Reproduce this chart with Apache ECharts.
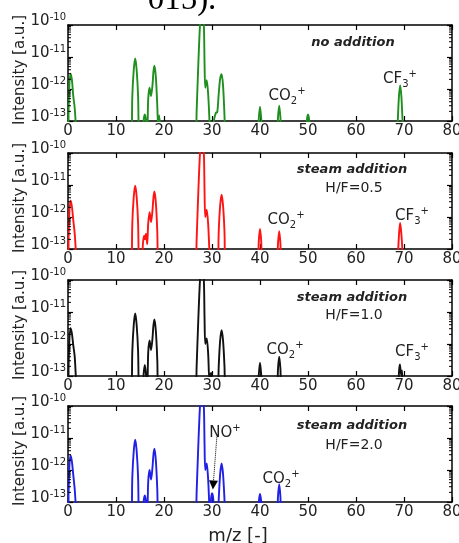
<!DOCTYPE html>
<html>
<head>
<meta charset="utf-8">
<script src="https://cdn.jsdelivr.net/npm/echarts@6/dist/echarts.min.js"></script>
<style>html,body{margin:0;padding:0;background:#fff;}#c{width:459px;height:543px;}</style>
</head>
<body>
<div id="c"></div>
<script>
// ---- data (m/z, intensity [a.u.]) ----
const spectrumNoAddition = [
 [0,1e-14],[0.2,6e-13],[0.5,3e-12],[0.8,2e-12],[1.1,6e-13],[1.4,2.5e-13],[1.7,5e-14],[2,1e-14],
 [13.1,1e-14],[13.4,6e-13],[13.7,4e-12],[14,9e-12],[14.3,4e-12],[14.6,6e-13],[14.9,1e-14],
 [15.5,2e-14],[15.75,1e-13],[16,1.6e-13],[16.25,1e-13],[16.5,2e-14],
 [16.7,4.5e-13],[17,1.1e-12],[17.3,6e-13],[17.6,1.3e-12],[17.8,3.5e-12],[18,5.3e-12],[18.3,2.4e-12],[18.6,3e-13],[18.8,6e-14],[19,1.5e-13],[19.25,4e-14],[19.5,1e-14],
 [26.5,1e-14],[26.8,2e-13],[27.15,6e-12],[27.5,1e-10],[27.9,6e-10],[28.3,1e-10],[28.45,6e-12],[28.6,1.1e-12],[28.9,1.9e-12],[29.2,7e-13],[29.5,8e-14],[29.7,1e-14],
 [30.1,1e-14],[30.4,1e-13],[30.8,1.8e-13],[31.1,1.9e-13],[31.4,7e-13],[31.7,2.1e-12],[32,2.9e-12],[32.3,1.3e-12],[32.6,1.5e-13],[32.9,1e-14],
 [39.45,2e-14],[39.75,1.2e-13],[40,2.8e-13],[40.25,1.2e-13],[40.55,2e-14],
 [43.45,2e-14],[43.75,1.3e-13],[44,3e-13],[44.25,1.3e-13],[44.55,2e-14],
 [49.5,2e-14],[49.75,1e-13],[50,1.6e-13],[50.25,1e-13],[50.5,2e-14],
 [68.4,1e-14],[68.7,1e-13],[68.95,6e-13],[69.2,1.3e-12],[69.45,6e-13],[69.7,1e-13],[70,1e-14],
 [80,1e-14]
];
const spectrumHF05 = [
 [0,1e-14],[0.2,6e-13],[0.5,3.3e-12],[0.8,2.2e-12],[1.1,8e-13],[1.4,3e-13],[1.7,6e-14],[2,1e-14],
 [13.1,1e-14],[13.4,6.5e-13],[13.7,4.3e-12],[14,9.5e-12],[14.3,4.3e-12],[14.6,6.5e-13],[14.9,1e-14],
 [15.3,1e-14],[15.6,1.4e-13],[15.9,2.6e-13],[16.05,2e-13],[16.25,3e-13],[16.5,1.4e-13],[16.7,6e-13],[17,1.4e-12],[17.3,7e-13],[17.6,1.6e-12],[17.8,4e-12],[18,6.3e-12],[18.3,2.8e-12],[18.6,3.5e-13],[18.9,1e-14],
 [26.5,1e-14],[26.8,2e-13],[27.15,6e-12],[27.5,1e-10],[27.9,6e-10],[28.3,1e-10],[28.45,6e-12],[28.6,1e-12],[28.9,1.7e-12],[29.2,6e-13],[29.5,6e-14],[29.7,1e-14],
 [31.1,1e-14],[31.4,3.5e-13],[31.7,2.3e-12],[32,5e-12],[32.3,2.3e-12],[32.6,3.5e-13],[32.9,1e-14],
 [39.45,2e-14],[39.75,1.8e-13],[40,4.2e-13],[40.25,1.8e-13],[40.55,2e-14],
 [43.45,2e-14],[43.75,1.5e-13],[44,3.6e-13],[44.25,1.5e-13],[44.55,2e-14],
 [68.5,1e-14],[68.8,1e-13],[69,3.5e-13],[69.2,6.5e-13],[69.45,3e-13],[69.7,7e-14],[69.9,1e-14],
 [80,1e-14]
];
const spectrumHF10 = [
 [0,1e-14],[0.2,6e-13],[0.5,3.1e-12],[0.8,2.2e-12],[1.1,9e-13],[1.4,4e-13],[1.7,6e-14],[2,1e-14],
 [13.1,1e-14],[13.4,6e-13],[13.7,4e-12],[14,9e-12],[14.3,4e-12],[14.6,6e-13],[14.9,1e-14],
 [15.5,2e-14],[15.75,1.1e-13],[16,2.2e-13],[16.25,1.1e-13],[16.5,2e-14],
 [16.7,5e-13],[17,1.3e-12],[17.3,6.5e-13],[17.6,1.5e-12],[17.8,3.8e-12],[18,5.9e-12],[18.3,2.6e-12],[18.6,3.2e-13],[18.9,1e-14],
 [26.5,1e-14],[26.8,2e-13],[27.15,6e-12],[27.5,1e-10],[27.9,6e-10],[28.3,1e-10],[28.45,6e-12],[28.6,1e-12],[28.9,1.5e-12],[29.2,5e-13],[29.45,8e-14],[29.65,1.1e-13],[29.85,1.25e-13],[30.05,5e-14],[30.25,1e-14],
 [31.1,1e-14],[31.4,2e-13],[31.7,1.3e-12],[32,2.7e-12],[32.3,1.3e-12],[32.6,2e-13],[32.9,1e-14],
 [39.45,2e-14],[39.75,1.1e-13],[40,2.6e-13],[40.25,1.1e-13],[40.55,2e-14],
 [43.45,2e-14],[43.75,1.7e-13],[44,4e-13],[44.25,1.7e-13],[44.55,2e-14],
 [68.7,1e-14],[68.95,1.3e-13],[69.15,2.3e-13],[69.4,1.1e-13],[69.6,1.5e-13],[69.85,1e-14],
 [80,1e-14]
];
const spectrumHF20 = [
 [0,1e-14],[0.2,6e-13],[0.5,2.9e-12],[0.8,1.9e-12],[1.1,7e-13],[1.4,2.5e-13],[1.7,5e-14],[2,1e-14],
 [13.1,1e-14],[13.4,6e-13],[13.7,4e-12],[14,8.9e-12],[14.3,4e-12],[14.6,6e-13],[14.9,1e-14],
 [15.5,2e-14],[15.75,1e-13],[16,1.6e-13],[16.25,1e-13],[16.5,2e-14],
 [16.7,4e-13],[17,1e-12],[17.3,5e-13],[17.6,1.2e-12],[17.8,3e-12],[18,4.6e-12],[18.3,2e-12],[18.6,2.5e-13],[18.9,1e-14],
 [26.5,1e-14],[26.8,2e-13],[27.15,6e-12],[27.5,1e-10],[27.9,6e-10],[28.3,1e-10],[28.45,6e-12],[28.6,1e-12],[28.9,1.6e-12],[29.2,5e-13],[29.45,8e-14],[29.6,5e-14],[29.8,1.3e-13],[30,1.9e-13],[30.25,1.3e-13],[30.5,2e-14],
 [31.1,1e-14],[31.4,1.2e-13],[31.7,7.5e-13],[32,1.6e-12],[32.3,7.5e-13],[32.6,1.2e-13],[32.9,1e-14],
 [39.5,2e-14],[39.75,1e-13],[40,1.8e-13],[40.25,1e-13],[40.5,2e-14],
 [43.45,2e-14],[43.75,1.5e-13],[44,3.6e-13],[44.25,1.5e-13],[44.55,2e-14],
 [80,1e-14]
];
const spectra = [spectrumNoAddition, spectrumHF05, spectrumHF10, spectrumHF20];
const seriesColors = ['#1f8f1f', '#ff1414', '#111111', '#2020e6'];
const panelTitles = ['no addition', 'steam addition', 'steam addition', 'steam addition'];
const panelSubtitles = ['', 'H/F=0.5', 'H/F=1.0', 'H/F=2.0'];
const xMin = 0, xMax = 80, xInterval = 10;
const yMin = 1e-13, yMax = 1e-10;
const minorMultipliers = [2, 3, 4, 5, 6, 7, 8, 9];
const minorDecades = [1e-13, 1e-12, 1e-11];
const noArrow = [[31.0, 1.05e-11], [30.25, 3.4e-13]];

// ---- layout ----
const FONT = 'DejaVu Sans';
const INK = '#222';
const gridLeft = 68, gridWidth = 384, gridHeight = 96;
const gridTops = [25, 153, 280, 406];

const minorTickValues = [];
minorDecades.forEach(d => minorMultipliers.forEach(m => minorTickValues.push([0, d * m])));

const grids = [], xAxes = [], yAxes = [], series = [], graphics = [];

function txt(x, y, text, extra) {
  graphics.push({
    type: 'text', x: x, y: y, silent: true,
    style: Object.assign({ text: text, fill: INK, font: '14px "' + FONT + '"', align: 'center', verticalAlign: 'middle' }, extra || {})
  });
}
const ionRich = {
  m: { fontSize: 15, fontFamily: FONT, lineHeight: 20, fill: INK },
  s: { fontSize: 10, fontFamily: FONT, lineHeight: 10, verticalAlign: 'bottom', fill: INK },
  p: { fontSize: 10, fontFamily: FONT, lineHeight: 10, verticalAlign: 'top', fill: INK }
};
function ion(x, y, main, sub) {
  graphics.push({
    type: 'text', x: x, y: y, silent: true,
    style: { text: '{m|' + main + '}' + (sub ? '{s|' + sub + '}' : '') + '{p|+}', rich: ionRich, align: 'center', verticalAlign: 'middle', fill: INK, fontFamily: FONT, fontSize: 15 }
  });
}

const axisLineStyle = { color: '#000', width: 1.5 };

for (let i = 0; i < 4; i++) {
  const top = gridTops[i];
  grids.push({ left: gridLeft, top: top, width: gridWidth, height: gridHeight, outerBoundsMode: 'none', containLabel: false });
  const xBase = {
    type: 'value', gridIndex: i, min: xMin, max: xMax, interval: xInterval,
    axisLine: { show: true, onZero: false, lineStyle: axisLineStyle },
    axisTick: { show: true, inside: true, length: 5, lineStyle: { color: '#000', width: 1.2 } },
    splitLine: { show: false }
  };
  xAxes.push(Object.assign({}, xBase, {
    position: 'bottom',
    axisLabel: { show: true, fontFamily: FONT, fontSize: 15, color: INK, margin: 3, hideOverlap: false, showMaxLabel: true, showMinLabel: true }
  }));
  xAxes.push(Object.assign({}, xBase, { position: 'top', axisLabel: { show: false } }));
  const yBase = {
    type: 'log', logBase: 10, gridIndex: i, min: yMin, max: yMax, splitNumber: 3,
    axisLine: { show: true, onZero: false, lineStyle: axisLineStyle },
    axisTick: { show: true, inside: true, length: 5, lineStyle: { color: '#000', width: 1.2 } },
    splitLine: { show: false }, minorTick: { show: false }
  };
  yAxes.push(Object.assign({}, yBase, {
    position: 'left',
    axisLabel: {
      show: true, margin: 2, padding: [0, 0, 7, 0], hideOverlap: false, showMaxLabel: true, showMinLabel: true,
      formatter: v => '{b|10}{e|' + Math.round(Math.log10(v)) + '}',
      rich: {
        b: { fontSize: 15, fontFamily: FONT, color: INK, lineHeight: 18 },
        e: { fontSize: 10, fontFamily: FONT, color: INK, lineHeight: 10, verticalAlign: 'top' }
      }
    }
  }));
  yAxes.push(Object.assign({}, yBase, { position: 'right', axisLabel: { show: false } }));

  const s = {
    type: 'line', xAxisIndex: 2 * i, yAxisIndex: 2 * i, data: spectra[i],
    showSymbol: false, symbol: 'none', smooth: 0.3, clip: true, silent: true,
    lineStyle: { color: seriesColors[i], width: 1.9 }, animation: false, z: 3
  };
  if (i === 3) {
    s.markLine = {
      silent: true, animation: false,
      symbol: ['none', 'triangle'], symbolSize: 9,
      itemStyle: { color: '#000' },
      lineStyle: { color: '#000', type: 'dotted', width: 1 },
      label: { show: false },
      data: [[{ coord: noArrow[0] }, { coord: noArrow[1] }]]
    };
  }
  series.push(s);

  // log minor ticks on left and right frame edges
  series.push({
    type: 'custom', xAxisIndex: 2 * i, yAxisIndex: 2 * i, silent: true, animation: false, z: 4,
    data: minorTickValues,
    renderItem: function (params, api) {
      const p = api.coord([0, api.value(1)]);
      const cs = params.coordSys;
      return {
        type: 'group', children: [
          { type: 'line', shape: { x1: cs.x, y1: p[1], x2: cs.x + 3, y2: p[1] }, style: { stroke: '#000', lineWidth: 1 } },
          { type: 'line', shape: { x1: cs.x + cs.width, y1: p[1], x2: cs.x + cs.width - 3, y2: p[1] }, style: { stroke: '#000', lineWidth: 1 } }
        ]
      };
    }
  });

  // y axis title
  graphics.push({
    type: 'text', x: 20, y: top + gridHeight / 2 - 3, rotation: Math.PI / 2, silent: true,
    style: { text: 'Intensity [a.u.]', fill: INK, font: '15px "' + FONT + '"', align: 'center', verticalAlign: 'middle' }
  });
}

// panel annotations
txt(353, 43, panelTitles[0], { font: 'italic bold 13px "' + FONT + '"' });
txt(352, 170, panelTitles[1], { font: 'italic bold 13px "' + FONT + '"' });
txt(354, 188, panelSubtitles[1], { font: '14px "' + FONT + '"' });
txt(352, 298, panelTitles[2], { font: 'italic bold 13px "' + FONT + '"' });
txt(354, 315, panelSubtitles[2], { font: '14px "' + FONT + '"' });
txt(352, 426, panelTitles[3], { font: 'italic bold 13px "' + FONT + '"' });
txt(354, 445, panelSubtitles[3], { font: '14px "' + FONT + '"' });

ion(287, 96, 'CO', '2');
ion(400, 79, 'CF', '3');
ion(286, 220, 'CO', '2');
ion(412, 216, 'CF', '3');
ion(285, 350, 'CO', '2');
ion(412, 352, 'CF', '3');
ion(281, 479, 'CO', '2');
ion(225, 433, 'NO', '');

// x axis title
txt(238, 536, 'm/z [-]', { font: '18px "' + FONT + '"' });
// cropped caption fragment at top
txt(182, 17, '015).', { font: '33px "Liberation Serif"', verticalAlign: 'bottom', fill: '#000' });

const chart = echarts.init(document.getElementById('c'), null, { renderer: 'canvas' });
chart.setOption({
  animation: false,
  backgroundColor: '#fff',
  grid: grids, xAxis: xAxes, yAxis: yAxes, series: series, graphic: graphics
});
</script>
</body>
</html>
